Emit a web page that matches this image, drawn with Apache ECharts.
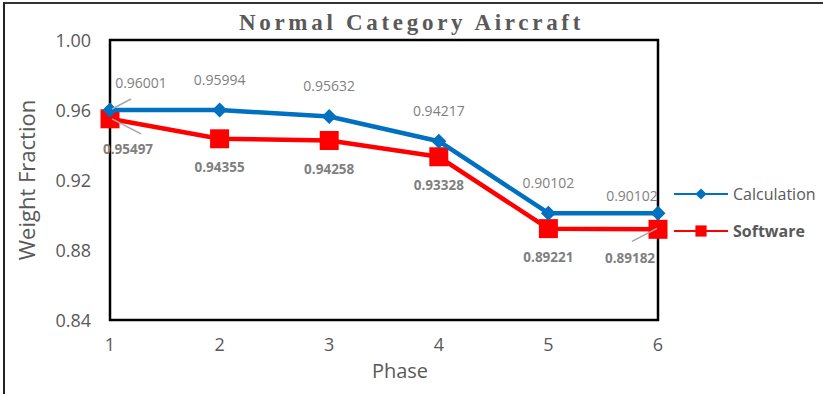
<!DOCTYPE html>
<html>
<head>
<meta charset="utf-8">
<script src="https://cdn.jsdelivr.net/npm/echarts@6/dist/echarts.min.js"></script>
<style>
  html, body { margin: 0; padding: 0; background: #fff; }
  #frame { position: absolute; left: 3px; top: 2px; width: 820px; height: 392px;
           border-left: 2px solid #222; border-top: 2px solid #333; box-sizing: border-box; }
  #chart { position: absolute; left: 0; top: 0; width: 823px; height: 394px; }
  #chart svg text[style*="Liberation Serif"],
  #chart svg text[font-family*="Liberation Serif"] { letter-spacing: 3.7px; }
</style>
</head>
<body>
<div id="frame"></div>
<div id="chart"></div>
<script>
// Phases of the mission and the weight fraction of each
const phases = ['1', '2', '3', '4', '5', '6'];
const calculation = [0.96001, 0.95994, 0.95632, 0.94217, 0.90102, 0.90102];
const software = [0.95497, 0.94355, 0.94258, 0.93328, 0.89221, 0.89182];
const yTicks = { min: 0.84, max: 1.00, step: 0.04 };

const font = '"Open Sans", "Noto Sans", sans-serif';
const axisGray = '#595959';
const labelGray = '#7f7f7f';
const leaderGray = '#a6a6a6';

// labels at the end points are pushed aside (pixel offsets from their default place)
const calcOffsets = { 0: [31, 3], 5: [-26, 13] };
const softOffsets = { 0: [18, 2], 5: [-28, 0] };

// leader lines from a point towards its pushed-aside label: [series, index, from dx/dy, to dx/dy]
const leaders = [
  [0, 0, [2, -1], [21, -11]],
  [1, 0, [2, 0], [31, 15]],
  [1, 5, [-1, -1], [-26, 12]]
];

function withLabels(values, offsets) {
  return values.map((v, i) => {
    const item = { value: v };
    if (offsets[i]) item.label = { offset: offsets[i] };
    return item;
  });
}

const chart = echarts.init(document.getElementById('chart'), null, { renderer: 'svg' });
chart.setOption({
  animation: false,
  backgroundColor: 'transparent',
  title: {
    text: 'Normal Category Aircraft',
    left: 'center',
    top: 6,
    textStyle: { fontFamily: '"Liberation Serif", serif', fontWeight: 'bold', fontSize: 23, color: axisGray }
  },
  grid: { left: 110, right: 165, top: 40, bottom: 74, show: true, borderColor: '#000', borderWidth: 2.5, backgroundColor: 'transparent' },
  legend: {
    orient: 'vertical',
    left: 673,
    top: 186,
    padding: 0,
    itemWidth: 54,
    itemHeight: 14,
    itemGap: 21,
    textStyle: { fontFamily: font, fontSize: 16, color: axisGray },
    data: [
      { name: 'Calculation' },
      { name: 'Software', textStyle: { fontWeight: 'bold' } }
    ]
  },
  xAxis: {
    type: 'category',
    data: phases,
    boundaryGap: false,
    name: 'Phase',
    nameLocation: 'middle',
    nameGap: 40,
    nameTextStyle: { fontFamily: font, fontSize: 20, color: axisGray, padding: [0, 0, 0, 32] },
    axisLine: { show: false },
    axisTick: { show: false },
    axisLabel: { fontFamily: font, fontSize: 18, color: axisGray, margin: 15 },
    splitLine: { show: false }
  },
  yAxis: {
    type: 'value',
    min: yTicks.min,
    max: yTicks.max,
    interval: yTicks.step,
    name: 'Weight Fraction',
    nameLocation: 'middle',
    nameRotate: 90,
    nameGap: 73,
    nameTextStyle: { fontFamily: font, fontSize: 22, color: axisGray },
    axisLine: { show: false },
    axisTick: { show: false },
    splitLine: { show: false },
    axisLabel: { fontFamily: font, fontSize: 18, color: axisGray, margin: 19, formatter: v => v.toFixed(2) }
  },
  series: [
    {
      name: 'Calculation',
      type: 'line',
      data: withLabels(calculation, calcOffsets),
      symbol: 'diamond',
      symbolSize: 15,
      lineStyle: { color: '#0070c0', width: 4.5 },
      itemStyle: { color: '#0070c0' },
      z: 3,
      label: {
        show: true, position: 'top', distance: 16,
        fontFamily: font, fontSize: 14, color: labelGray,
        formatter: p => p.value.toFixed(5)
      }
    },
    {
      name: 'Software',
      type: 'line',
      data: withLabels(software, softOffsets),
      symbol: 'rect',
      symbolSize: 19,
      lineStyle: { color: '#ff0000', width: 4.5 },
      itemStyle: { color: '#ff0000' },
      z: 2,
      label: {
        show: true, position: 'bottom', distance: 12,
        fontFamily: font, fontSize: 13.5, fontWeight: 'bold', color: labelGray,
        formatter: p => p.value.toFixed(5)
      }
    }
  ]
});

// leader lines, placed from the data through the chart's own scales
const seriesValues = [calculation, software];
chart.setOption({
  graphic: leaders.map(([s, i, from, to]) => {
    const [px, py] = chart.convertToPixel({ seriesIndex: s }, [i, seriesValues[s][i]]);
    return {
      type: 'line',
      z: 10,
      shape: { x1: px + from[0], y1: py + from[1], x2: px + to[0], y2: py + to[1] },
      style: { stroke: leaderGray, lineWidth: 1.5 }
    };
  })
});
</script>
</body>
</html>
